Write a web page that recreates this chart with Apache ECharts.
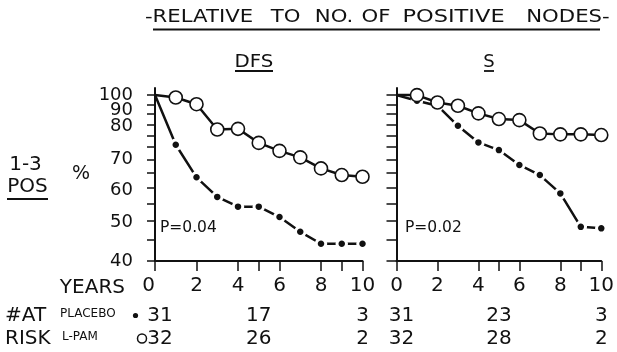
<!DOCTYPE html>
<html><head><meta charset="utf-8">
<script src="https://cdn.jsdelivr.net/npm/echarts@6/dist/echarts.min.js"></script>
<style>html,body{margin:0;padding:0;background:#fff}#c{width:617px;height:352px}</style>
</head><body><div id="c"></div>
<script>
// ---- data ----
const years = [0,1,2,3,4,5,6,7,8,9,10];
const dfsPlacebo = [100, 76, 63.5, 57, 54, 54, 51, 47, 44, 44, 44];
const dfsLpam    = [100, 98.7, 95.1, 82.7, 83, 76.8, 73.5, 70.9, 66.7, 64.3, 63.7];
const sPlacebo   = [100, 96.9, 94.3, 84.4, 77, 73.8, 68, 64.3, 58.1, 48.3, 47.9];
const sLpam      = [100, 100, 96.0, 94.3, 90.4, 87.6, 87.1, 80.9, 80.5, 80.5, 80.2];
const yTickValues  = [40,45,50,55,60,65,70,75,80,85,90,95,100];
const yLabelValues = [100,90,80,70,60,50,40];
const xTickValues  = [0,2,4,5,6,8,9,10];
const xLabelValues = [0,2,4,6,8,10];
const riskYears      = [0,5,10];
const dfsRiskPlacebo = [31,17,3];
const dfsRiskLpam    = [32,26,2];
const sRiskPlacebo   = [31,23,3];
const sRiskLpam      = [32,28,2];
const panelTitles = ['DFS','S'];
const pValues = ['P=0.04','P=0.02'];

const F = 'DejaVu Sans';
const K = '#111';
const chart = echarts.init(document.getElementById('c'), null, {renderer:'canvas'});

function pts(vals){
  return years.map((x,i)=> i===0 ? {value:[x,vals[i]], symbol:'none'} : [x, vals[i]]);
}
const labelShift = {90:'a',80:'b',60:'c',50:'d'};
function yAxis(idx, opts){
  const base = {fontFamily:F, fontSize:18, color:K};
  return {
    type:'log', logBase:10, gridIndex:idx, min:40, max:104, position:'left', offset:0,
    splitLine:{show:false},
    axisLine:{show:opts.line, lineStyle:{color:K, width:2}},
    axisTick:{show:opts.line, customValues:yTickValues, length:opts.tickLen||8, lineStyle:{color:K, width:1.5}},
    axisLabel:{
      show:!!opts.labels, customValues:opts.labels || [], margin:22, hideOverlap:false,
      fontFamily:F, fontSize:18, color:K,
      formatter: v => { v = Math.round(v); const k = labelShift[v]; return k ? `{${k}|${v}}` : `{n|${v}}`; },
      rich:{
        n:Object.assign({}, base),
        a:Object.assign({}, base, {padding:[0,0,7,0]}),
        b:Object.assign({}, base, {padding:[0,0,19,0]}),
        c:Object.assign({}, base, {padding:[6,0,0,0]}),
        d:Object.assign({}, base, {padding:[4,0,0,0]})
      }
    }
  };
}
function xAxis(idx){
  return {
    type:'value', gridIndex:idx, min:0, max:10,
    splitLine:{show:false},
    axisLine:{show:true, onZero:false, lineStyle:{color:K, width:2}},
    axisTick:{show:true, customValues:xTickValues, length:10, lineStyle:{color:K, width:1.5}},
    axisLabel:{customValues:xLabelValues, margin:15, fontFamily:F, fontSize:20, color:K, hideOverlap:false,
      alignMinLabel: idx===0 ? 'right' : 'center'}
  };
}
function placeboSeries(idx, yIdx, vals){
  return {type:'line', xAxisIndex:idx, yAxisIndex:yIdx, data:pts(vals), z:2,
    symbol:'circle', symbolSize:9.5, animation:false,
    lineStyle:{color:K, width:2.5},
    itemStyle:{color:K, borderColor:'#fff', borderWidth:3}};
}
function lpamSeries(idx, yIdx, vals){
  return {type:'line', xAxisIndex:idx, yAxisIndex:yIdx, data:pts(vals), z:3,
    symbol:'circle', symbolSize:13, animation:false,
    lineStyle:{color:K, width:2.5},
    itemStyle:{color:'#fff', borderColor:K, borderWidth:1.6}};
}
// y labels split over two coincident axes so neighbouring labels are never culled
const labelsA = yLabelValues.filter((v,i)=> i%2===0);
const labelsB = yLabelValues.filter((v,i)=> i%2===1);

chart.setOption({
  animation:false,
  backgroundColor:'#fff',
  grid:[
    {left:155, top:88, width:207.5, height:173},
    {left:396.5, top:88, width:210, height:173}
  ],
  xAxis:[xAxis(0), xAxis(1)],
  yAxis:[
    yAxis(0,{line:true, tickLen:8, labels:labelsA}),
    yAxis(1,{line:true, tickLen:10}),
    yAxis(0,{line:false, labels:labelsB})
  ],
  series:[
    placeboSeries(0, 0, dfsPlacebo), lpamSeries(0, 0, dfsLpam),
    placeboSeries(1, 1, sPlacebo), lpamSeries(1, 1, sLpam)
  ]
});

// ---- text / annotations ----
const g = [];
function txt(text, x, y, size, align, extra){
  g.push(Object.assign({type:'text', x:x, y:y, silent:true, originX:0, originY:0,
    style:{text:text, fontFamily:F, fontSize:size, fill:K, align:align||'center', verticalAlign:'middle'}}, extra||{}));
}
function line(x1,y1,x2,y2,w){
  g.push({type:'line', silent:true, shape:{x1,y1,x2,y2}, style:{stroke:K, lineWidth:w||1.5}});
}
// title words
const titleWords = [['-RELATIVE',199],['TO',285.5],['NO.',334],['OF',376],['POSITIVE',453.5],['NODES-',568]];
titleWords.forEach(([w,x]) => txt(w, x, 17, 18, 'center', {scaleX:w==='POSITIVE'?1.25:1.18}));
line(153, 29.5, 600, 29.5, 1.8);
// panel titles
txt(panelTitles[0], 254, 62, 18, 'center', {scaleX:1.1});
line(235, 71, 273, 71, 1.8);
txt(panelTitles[1], 489, 62, 18, 'center');
line(484, 71, 494, 71, 1.8);
// left labels
txt('1-3', 25.5, 164.5, 20);
txt('POS', 27.5, 186.5, 20);
line(7, 199, 48, 199, 1.8);
txt('%', 81, 174.5, 19);
// p-values
txt(pValues[0], 160, 227.5, 15.5, 'left');
txt(pValues[1], 405, 227.5, 15.5, 'left');
// risk table
txt('YEARS', 125, 288, 20, 'right');
txt('#AT', 5, 316, 20, 'left');
txt('RISK', 5, 339, 20, 'left');
txt('PLACEBO', 60, 313.5, 12, 'left');
txt('L-PAM', 62, 336.5, 12, 'left');
g.push({type:'circle', silent:true, shape:{cx:135.5, cy:315.5, r:2.6}, style:{fill:K}});
g.push({type:'circle', silent:true, shape:{cx:142, cy:338.5, r:4.5}, style:{fill:'#fff', stroke:K, lineWidth:1.5}});
const tables = [[dfsRiskPlacebo, dfsRiskLpam],[sRiskPlacebo, sRiskLpam]];
tables.forEach((rows, idx) => {
  riskYears.forEach((yr, j) => {
    const px = chart.convertToPixel({xAxisIndex:idx}, yr) + (yr===0 ? 5 : 0);
    txt(String(rows[0][j]), px, 316, 20);
    txt(String(rows[1][j]), px, 339, 20);
  });
});
chart.setOption({graphic:g});
</script>
</body></html>
